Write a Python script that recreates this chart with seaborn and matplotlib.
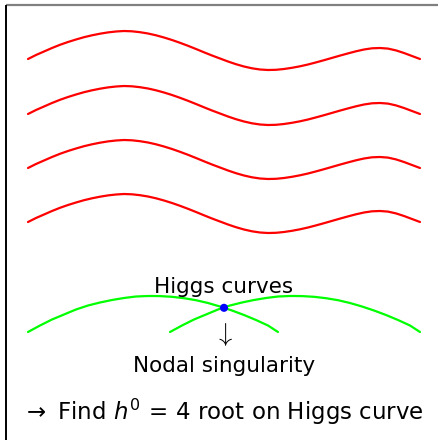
import numpy as np
import matplotlib
matplotlib.use('Agg')
import matplotlib.pyplot as plt
import pandas as pd
import seaborn as sns

# one red wave, in pixel coords of the picture (y grows downward)
wave_x = [28, 36, 44, 52, 60, 68, 76, 84, 92, 100, 108, 116, 124, 132, 140, 148,
          156, 164, 172, 180, 188, 196, 204, 212, 220, 228, 236, 244, 252, 260,
          268, 276, 284, 292, 300, 308, 316, 324, 332, 340, 348, 356, 364, 372,
          380, 388, 396, 404, 412, 420]
wave_y = [59, 55, 51.5, 48, 44.8, 42, 39.5, 37.2, 35.3, 33.7, 32.4, 31.5, 31, 31.3,
          32.2, 33.5, 35.3, 37.5, 40, 42.8, 45.8, 49, 52.3, 55.5, 58.5, 61.5, 64.2,
          66.5, 68.3, 69.5, 70, 69.8, 69, 67.8, 66.3, 64.5, 62.4, 60.2, 57.9, 55.6,
          53.4, 51.3, 49.5, 48.3, 48, 48.6, 50.4, 53, 56, 59]
wave_shift = [0, 55, 109, 163]

# the two green Higgs curves
left_x = [28, 40, 52, 64, 76, 88, 100, 112, 124, 136, 148, 153, 160, 172, 184,
          196, 208, 220, 232, 244, 256, 268, 278]
left_y = [332, 325.5, 319.5, 314.5, 309.5, 305.5, 302.5, 300, 298, 296.5, 296, 296,
          296.1, 296.8, 298.2, 300.2, 303, 306.5, 310.5, 315, 320, 325.5, 332]
right_x = [170, 182, 194, 206, 218, 230, 242, 254, 266, 278, 290, 295, 302, 314,
           326, 338, 350, 362, 374, 386, 398, 410, 420]
right_y = [332, 325.5, 319.5, 314.5, 309.5, 305.5, 302.5, 300, 298, 296.5, 296, 296,
           296.1, 296.8, 298.2, 300.2, 303, 306.5, 310.5, 315, 320, 325.5, 332]

node_x = [224]
node_y = [307.8]

sns.set_style('white')
plt.rcParams['mathtext.fontset'] = 'dejavusans'
plt.rcParams['text.color'] = 'black'

fig = plt.figure(figsize=(4.39, 4.40), dpi=100)
ax = fig.add_axes([0, 0, 1, 1])
ax.set_xlim(0, 439)
ax.set_ylim(440, 0)
ax.axis('off')

rows = []
for i, s in enumerate(wave_shift):
    for x, y in zip(wave_x, wave_y):
        rows.append({'x': x, 'y': y + s, 'curve': i})
waves = pd.DataFrame(rows)
sns.lineplot(data=waves, x='x', y='y', units='curve', estimator=None, sort=False,
             color='#ff0000', lw=1.6, ax=ax)

green = pd.DataFrame({'x': left_x + right_x, 'y': left_y + right_y,
                      'curve': ['l'] * len(left_x) + ['r'] * len(right_x)})
sns.lineplot(data=green, x='x', y='y', units='curve', estimator=None, sort=False,
             color='#00ff00', lw=1.6, ax=ax)

sns.scatterplot(x=node_x, y=node_y, color='#0000ff', s=34, edgecolor='none', ax=ax, zorder=5)

# frame edges
ax.plot([6, 439], [5, 5], color='#808080', lw=1.6, solid_capstyle='butt')
ax.plot([6, 6], [5, 440], color='black', lw=1.4, solid_capstyle='butt')

ax.text(224, 293, 'Higgs curves', ha='center', va='baseline', fontsize=15.5)
ax.text(224, 341, r'$\downarrow$', ha='center', va='baseline', fontsize=19,
        math_fontfamily='cm')
ax.text(224, 371.5, 'Nodal singularity', ha='center', va='baseline', fontsize=15.5)
ax.text(223, 420, r'$\rightarrow$ Find $h^0\,=\,4$ root on Higgs curve',
        ha='center', va='baseline', fontsize=16.5)

fig.savefig('out.png', dpi=100)
